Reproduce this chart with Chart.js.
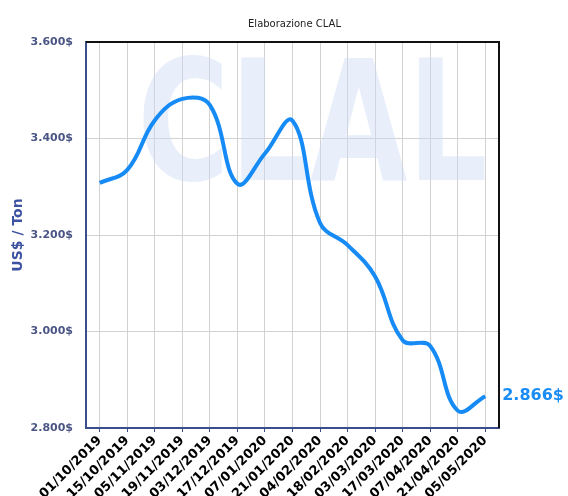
<!DOCTYPE html>
<html>
<head>
<meta charset="utf-8">
<script src="https://cdn.jsdelivr.net/npm/chart.js@4"></script>
<style>
  html, body { margin: 0; padding: 0; background: #fff; }
  #wrap { width: 568px; height: 496px; }
</style>
</head>
<body>
<div id="wrap"><canvas id="price-chart-canvas"></canvas></div>
<script>
// data
const dateLabels = ['01/10/2019', '15/10/2019', '05/11/2019', '19/11/2019', '03/12/2019',
  '17/12/2019', '07/01/2020', '21/01/2020', '04/02/2020', '18/02/2020',
  '03/03/2020', '17/03/2020', '07/04/2020', '21/04/2020', '05/05/2020'];
const priceValues = [3308, 3335, 3438, 3482, 3469, 3306, 3369, 3437, 3225, 3179, 3114, 2982, 2970, 2836, 2866];
const yTicks = [2800, 3000, 3200, 3400, 3600];
const subtitleText = 'Elaborazione CLAL';
const watermarkText = 'CLAL';
const yTitle = 'US$ / Ton';

function fmtDollar(v) {
  const th = Math.floor(v / 1000);
  const rest = String(Math.round(v % 1000)).padStart(3, '0');
  return th + '.' + rest + '$';
}

// background logo, subtitle, frame and last value label
const decorPlugin = {
  id: 'decor',
  beforeDatasetsDraw(chart) {
    const { ctx, chartArea } = chart;
    ctx.save();
    ctx.fillStyle = 'rgba(205, 220, 243, 0.45)';
    ctx.font = 'bold 120px "DejaVu Sans"';
    ctx.textAlign = 'center';
    ctx.textBaseline = 'alphabetic';
    ctx.translate((chartArea.left + chartArea.right) / 2 + 20, chartArea.top + 138);
    ctx.scale(1.05, 1.4);
    ctx.fillText(watermarkText, 0, 0);
    ctx.restore();
  },
  afterDraw(chart) {
    const { ctx, chartArea } = chart;
    ctx.save();
    // subtitle
    ctx.fillStyle = '#222';
    ctx.font = '10px "DejaVu Sans"';
    ctx.textAlign = 'center';
    ctx.textBaseline = 'middle';
    ctx.fillText(subtitleText, (chartArea.left + chartArea.right) / 2 + 2, 24);
    // top and right frame
    ctx.strokeStyle = '#111';
    ctx.lineWidth = 2;
    ctx.beginPath();
    ctx.moveTo(chartArea.left, chartArea.top);
    ctx.lineTo(chartArea.right, chartArea.top);
    ctx.lineTo(chartArea.right, chartArea.bottom);
    ctx.stroke();
    // last value label
    const meta = chart.getDatasetMeta(0);
    const last = meta.data[meta.data.length - 1];
    ctx.fillStyle = '#1a8cf5';
    ctx.font = 'bold 16px "DejaVu Sans"';
    ctx.textAlign = 'left';
    ctx.fillText(fmtDollar(priceValues[priceValues.length - 1]), last.x + 17, last.y);
    ctx.restore();
  }
};

const priceChart = new Chart('price-chart-canvas', {
  type: 'line',
  data: {
    labels: dateLabels,
    datasets: [{
      label: 'Price',
      data: priceValues,
      borderColor: '#168bf5',
      borderWidth: 4,
      pointRadius: 0,
      tension: 0.4,
      fill: false,
    }],
  },
  options: {
    responsive: true,
    maintainAspectRatio: false,
    animation: false,
    layout: {
      padding: { top: 42, right: 69, left: 0, bottom: 0 },
    },
    scales: {
      x: {
        offset: true,
        grid: {
          color: '#d2d2d2',
          offset: false,
          tickLength: 4,
          tickColor: '#3b4e8c',
        },
        border: { color: '#3b4e8c', width: 2 },
        ticks: {
          autoSkip: false,
          minRotation: 45,
          maxRotation: 45,
          padding: 1,
          color: '#000',
          font: { family: 'DejaVu Sans', size: 13, weight: 'bold' },
        },
        afterFit(scale) { scale.height = 68; },
      },
      y: {
        min: 2800,
        max: 3600,
        afterBuildTicks(scale) { scale.ticks = yTicks.map(v => ({ value: v })); },
        grid: { color: '#d2d2d2', tickLength: 0 },
        border: { color: '#3b4e8c', width: 2 },
        ticks: {
          padding: 13,
          color: '#4a5585',
          font: { family: 'DejaVu Sans', size: 11, weight: 'bold' },
          callback: (v) => fmtDollar(v),
        },
        title: {
          display: true,
          text: yTitle,
          color: '#3d52a0',
          padding: { top: 10, bottom: 0 },
          font: { family: 'DejaVu Sans', size: 14, weight: 'bold' },
        },
        afterFit(scale) { scale.width = 86; },
      },
    },
    plugins: {
      legend: { display: false },
      tooltip: { enabled: false },
    },
  },
  plugins: [decorPlugin],
});
</script>
</body>
</html>
